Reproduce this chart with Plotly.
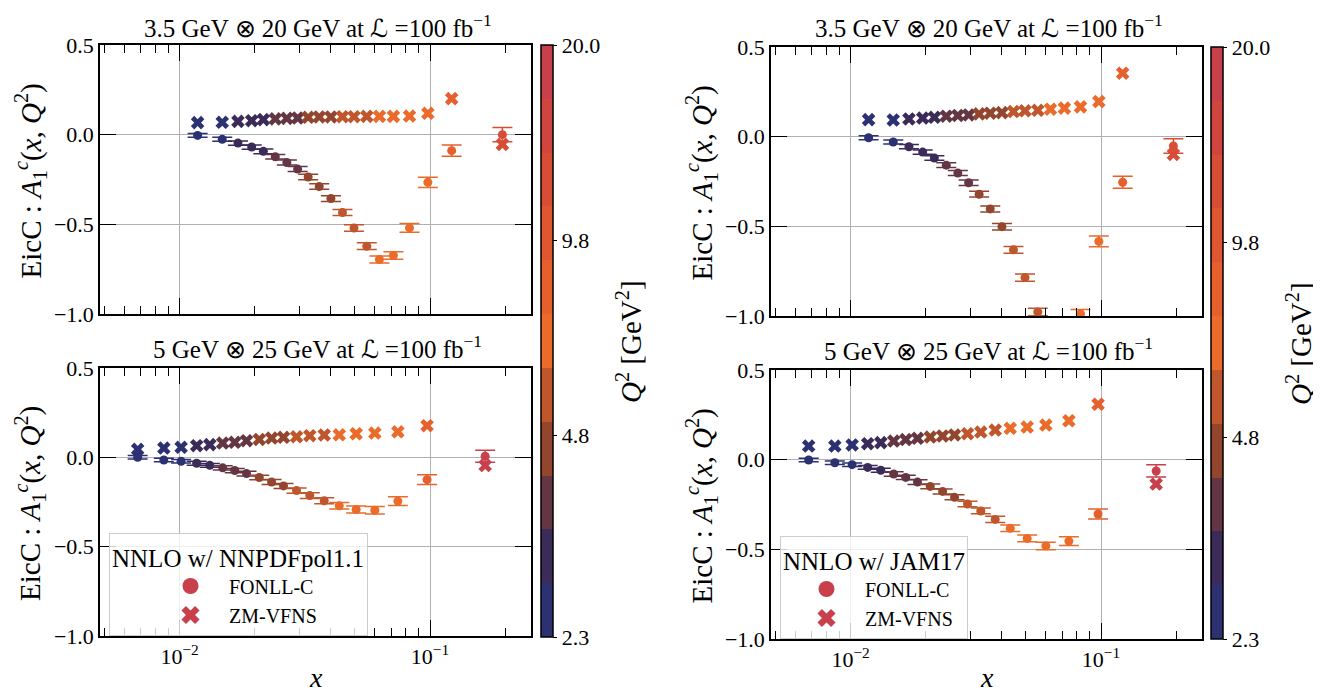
import numpy as np
import plotly.graph_objects as go

# The page body adds an 8 px margin; the figure is placed so that it fills the window.
OFF = 8
W, H = 1321 - OFF, 695 - OFF
FONT = "Liberation Serif"

# ---------------- data ----------------
# colour bands (Q^2 bins), bottom -> top of colour bar
band_colors = ["#2C3172", "#3B2B58", "#643643", "#93462D", "#C0562B", "#EA6B2A",
               "#E5602C", "#DF5630", "#D84D36", "#D0463F", "#C8404B"]
q2_min, q2_max = 2.3, 20.0
cbar_tick_values = [2.3, 4.8, 9.8, 20.0]
cbar_tick_labels = ["2.3", "4.8", "9.8", "20.0"]

# x values (shared by the two series of a panel)
x_top = [0.0118, 0.0148, 0.0171, 0.0194, 0.0216, 0.0241, 0.0268, 0.0296, 0.0326, 0.0361,
         0.0402, 0.0447, 0.0497, 0.0559, 0.0628, 0.0714, 0.0828, 0.0980, 0.1220, 0.1945]
x_bot = [0.0068, 0.00865, 0.01014, 0.0117, 0.0132, 0.01486, 0.0166, 0.0185, 0.0208, 0.0233,
         0.0260, 0.0293, 0.0331, 0.0378, 0.0434, 0.0507, 0.0602, 0.0744, 0.0973, 0.166]

# colour band of each point
band_top = [0, 0, 1, 1, 1, 2, 2, 2, 3, 3, 3, 4, 4, 4, 5, 5, 5, 5, 6, 8]
band_bot = [0, 0, 0, 1, 1, 2, 2, 2, 3, 3, 3, 4, 4, 4, 5, 5, 5, 5, 6, 10]

# NNPDFpol1.1, 3.5 x 20 GeV
tl_fonll = [-0.004, -0.026, -0.047, -0.069, -0.093, -0.123, -0.155, -0.192, -0.236, -0.289,
            -0.356, -0.434, -0.521, -0.622, -0.696, -0.674, -0.520, -0.266, -0.089, 0.000]
tl_err = [0.011, 0.011, 0.012, 0.012, 0.013, 0.013, 0.014, 0.014, 0.015, 0.015,
          0.016, 0.017, 0.018, 0.019, 0.020, 0.021, 0.024, 0.028, 0.032, 0.040]
tl_zm = [0.067, 0.069, 0.074, 0.078, 0.084, 0.088, 0.091, 0.093, 0.097, 0.099,
         0.099, 0.100, 0.100, 0.102, 0.102, 0.102, 0.104, 0.119, 0.201, -0.054]

# NNPDFpol1.1, 5 x 25 GeV
bl_fonll = [0.000, -0.015, -0.022, -0.033, -0.045, -0.059, -0.074, -0.091, -0.113, -0.138,
            -0.160, -0.186, -0.214, -0.243, -0.271, -0.292, -0.296, -0.245, -0.125, 0.006]
bl_err = [0.010, 0.010, 0.010, 0.011, 0.011, 0.012, 0.012, 0.013, 0.013, 0.014,
          0.014, 0.015, 0.016, 0.017, 0.018, 0.019, 0.021, 0.024, 0.027, 0.034]
bl_zm = [0.045, 0.052, 0.056, 0.065, 0.071, 0.080, 0.084, 0.093, 0.100, 0.108,
         0.112, 0.115, 0.121, 0.125, 0.126, 0.132, 0.136, 0.143, 0.177, -0.046]

# JAM17, 3.5 x 20 GeV
tr_fonll = [-0.006, -0.030, -0.056, -0.086, -0.119, -0.159, -0.203, -0.257, -0.321, -0.403,
            -0.502, -0.631, -0.786, -0.978, None, None, -0.989, -0.584, -0.254, -0.052]
tr_err = [0.011, 0.011, 0.012, 0.012, 0.013, 0.013, 0.014, 0.015, 0.016, 0.017,
          0.018, 0.019, 0.020, 0.021, 0.022, 0.023, 0.025, 0.030, 0.033, 0.041]
tr_zm = [0.095, 0.093, 0.099, 0.104, 0.108, 0.114, 0.118, 0.121, 0.127, 0.131,
         0.134, 0.140, 0.144, 0.147, 0.153, 0.159, 0.166, 0.196, 0.354, -0.099]

# JAM17, 5 x 25 GeV
br_fonll = [-0.002, -0.017, -0.028, -0.043, -0.059, -0.080, -0.099, -0.125, -0.149, -0.177,
            -0.210, -0.247, -0.286, -0.333, -0.383, -0.439, -0.481, -0.454, -0.303, -0.063]
br_err = [0.010, 0.010, 0.010, 0.011, 0.011, 0.012, 0.012, 0.013, 0.013, 0.014,
          0.014, 0.015, 0.016, 0.017, 0.018, 0.019, 0.021, 0.024, 0.028, 0.034]
br_zm = [0.076, 0.076, 0.082, 0.089, 0.095, 0.104, 0.112, 0.119, 0.126, 0.132,
         0.138, 0.145, 0.154, 0.165, 0.175, 0.182, 0.193, 0.217, 0.309, -0.136]

panel_titles = ["3.5 GeV ⊗ 20 GeV at ℒ =100 fb<sup>−1</sup>",
                "5 GeV ⊗ 25 GeV at ℒ =100 fb<sup>−1</sup>"]
legend_titles = ["NNLO w/ NNPDFpol1.1", "NNLO w/ JAM17"]
series_names = ["FONLL-C", "ZM-VFNS"]
y_title = "EicC : <i>A</i><sub>1</sub><sup><i>c</i></sup>(<i>x</i>, <i>Q</i><sup>2</sup>)"
cbar_title = "<i>Q</i><sup>2</sup> [GeV<sup>2</sup>]"

# ---------------- layout geometry (window pixels) ----------------
def fx(px):
    return (px - OFF) / W

def fy(py):
    return 1 - (py - OFF) / H

panels = [
    # (xaxis id, yaxis id, x px range, y px range, x data, bands, fonll, err, zm, show xlabels, title y)
    ("x", "y", (100, 531), (45, 314), x_top, band_top, tl_fonll, tl_err, tl_zm, False, None),
    ("x2", "y2", (100, 531), (368, 636), x_bot, band_bot, bl_fonll, bl_err, bl_zm, True, 347),
    ("x3", "y3", (771, 1202), (47, 316), x_top, band_top, tr_fonll, tr_err, tr_zm, False, None),
    ("x4", "y4", (771, 1202), (370, 639), x_bot, band_bot, br_fonll, br_err, br_zm, True, 349),
]

fig = go.Figure()

n_bands = len(band_colors)
minor_vals = [0.005, 0.006, 0.007, 0.008, 0.009] + [k / 100 for k in range(2, 10)] + [0.2]

layout = dict(template="none", width=W, height=H, margin=dict(l=0, r=0, t=0, b=0),
              paper_bgcolor="white", plot_bgcolor="white",
              font=dict(family=FONT, color="black", size=20))

annotations = []
for i, (xa, ya, xpx, ypx, xs, bands, fon, err, zm, showx, ty) in enumerate(panels):
    xkey = "xaxis" if xa == "x" else "xaxis" + xa[1:]
    ykey = "yaxis" if ya == "y" else "yaxis" + ya[1:]
    layout[xkey] = dict(
        domain=[fx(xpx[0]), fx(xpx[1])], anchor=ya, type="log", automargin=False,
        range=[np.log10(0.00481), np.log10(0.2530)],
        tickmode="array", tickvals=[0.01, 0.1],
        ticktext=["10<sup>−2</sup>", "10<sup>−1</sup>"], showticklabels=showx,
        ticks="inside", ticklen=16, tickwidth=1.4, tickcolor="black",
        minor=dict(tickmode="array", tickvals=minor_vals, ticks="inside", ticklen=8,
                   tickwidth=1, tickcolor="black", showgrid=False),
        showline=True, linecolor="black", linewidth=1.5, mirror="allticks",
        showgrid=True, gridcolor="#b0b0b0", gridwidth=1, zeroline=False,
        tickfont=dict(size=22, family=FONT, color="black"))
    layout[ykey] = dict(
        domain=[fy(ypx[1]), fy(ypx[0])], anchor=xa, range=[-1.0, 0.5], automargin=False,
        tickmode="array", tickvals=[-1.0, -0.5, 0.0, 0.5],
        ticktext=["−1.0", "−0.5", "0.0", "0.5"],
        ticks="inside", ticklen=16, tickwidth=1.4, tickcolor="black",
        showline=True, linecolor="black", linewidth=1.5, mirror="allticks",
        showgrid=True, gridcolor="#b0b0b0", gridwidth=1, zeroline=False,
        tickfont=dict(size=22, family=FONT, color="black"))

    # series grouped by colour band
    for b in sorted(set(bands)):
        idx = [k for k in range(len(xs)) if bands[k] == b]
        col = band_colors[b]
        fig.add_trace(go.Scatter(
            x=[xs[k] for k in idx], y=[fon[k] for k in idx], xaxis=xa, yaxis=ya,
            mode="markers", marker=dict(symbol="circle", size=9, color=col, line=dict(width=0)),
            error_y=dict(type="data", array=[err[k] for k in idx], color=col,
                         thickness=1.5, width=10),
            showlegend=False, hoverinfo="skip"))
        fig.add_trace(go.Scatter(
            x=[xs[k] for k in idx], y=[zm[k] for k in idx], xaxis=xa, yaxis=ya,
            mode="markers", marker=dict(symbol="x", size=12, color=col, line=dict(width=0)),
            showlegend=False, hoverinfo="skip"))

    # panel title
    title_font = dict(size=25, family=FONT, color="black")
    if ty is None:
        annotations.append(dict(
            text=panel_titles[i % 2], x=fx((xpx[0] + xpx[1]) / 2 + 2), y=1,
            xref="paper", yref="paper", xanchor="center", yanchor="top",
            showarrow=False, font=title_font))
    else:
        annotations.append(dict(
            text=panel_titles[i % 2], x=fx((xpx[0] + xpx[1]) / 2 + 2), y=fy(ty),
            xref="paper", yref="paper", xanchor="center", yanchor="middle",
            showarrow=False, font=title_font))
    # y-axis title
    annotations.append(dict(
        text=y_title, x=fx(xpx[0] - 70), y=fy((ypx[0] + ypx[1]) / 2 + 2),
        xref="paper", yref="paper", xanchor="center", yanchor="middle", textangle=-90,
        showarrow=False, font=dict(size=29, family=FONT, color="black")))
    if showx:
        annotations.append(dict(
            text="<i>x</i>", x=fx((xpx[0] + xpx[1]) / 2), y=0,
            xref="paper", yref="paper", xanchor="center", yanchor="bottom",
            showarrow=False, font=dict(size=28, family=FONT, color="black")))

# colour bars (one per column)
colorscale = []
for b, c in enumerate(band_colors):
    colorscale.append([b / n_bands, c])
    colorscale.append([(b + 1) / n_bands, c])
tick_pos = [n_bands * np.log(v / q2_min) / np.log(q2_max / q2_min) for v in cbar_tick_values]

for (xa, ya, cx, ytop, ybot) in [("x2", "y2", 541, 45, 637), ("x4", "y4", 1211, 47, 639)]:
    fig.add_trace(go.Scatter(
        x=[None], y=[None], xaxis=xa, yaxis=ya, mode="markers", showlegend=False,
        hoverinfo="skip",
        marker=dict(color=[0], cmin=0, cmax=n_bands, colorscale=colorscale, showscale=True,
                    colorbar=dict(
                        x=fx(cx), xanchor="left", y=fy(ybot), yanchor="bottom",
                        len=(ybot - ytop) / H, lenmode="fraction", thickness=12,
                        xpad=0, ypad=0, outlinewidth=1.5, outlinecolor="black",
                        tickmode="array", tickvals=tick_pos, ticktext=cbar_tick_labels,
                        ticks="outside", ticklen=4, tickwidth=1.2, tickcolor="black",
                        tickfont=dict(size=22, family=FONT, color="black")))))
    annotations.append(dict(
        text=cbar_title, x=fx(cx + 88), y=fy((ytop + ybot) / 2 + 1), xref="paper", yref="paper",
        xanchor="center", yanchor="middle", textangle=-90, showarrow=False,
        font=dict(size=29, family=FONT, color="black")))

# legends
leg_color = band_colors[-1]
for j, (xa, ya, lname) in enumerate([("x2", "y2", "legend"), ("x4", "y4", "legend2")]):
    fig.add_trace(go.Scatter(x=[None], y=[None], xaxis=xa, yaxis=ya, mode="markers",
                             name=series_names[0], legend=lname, hoverinfo="skip",
                             marker=dict(symbol="circle", size=16, color=leg_color)))
    fig.add_trace(go.Scatter(x=[None], y=[None], xaxis=xa, yaxis=ya, mode="markers",
                             name=series_names[1], legend=lname, hoverinfo="skip",
                             marker=dict(symbol="x", size=16, color=leg_color)))

leg_common = dict(xanchor="left", yanchor="top", bgcolor="rgba(255,255,255,0.8)",
                  bordercolor="#cccccc", borderwidth=1, font=dict(size=20, family=FONT),
                  itemwidth=67, tracegroupgap=0)
layout["legend"] = dict(x=fx(109), y=fy(533), indentation=42,
                        title=dict(text=legend_titles[0], font=dict(size=25, family=FONT)),
                        **leg_common)
layout["legend2"] = dict(x=fx(780), y=fy(536), indentation=7,
                         title=dict(text=legend_titles[1], font=dict(size=25, family=FONT)),
                         **leg_common)
layout["annotations"] = annotations
layout["showlegend"] = True

fig.update_layout(**layout)
fig.write_html("out.html")
